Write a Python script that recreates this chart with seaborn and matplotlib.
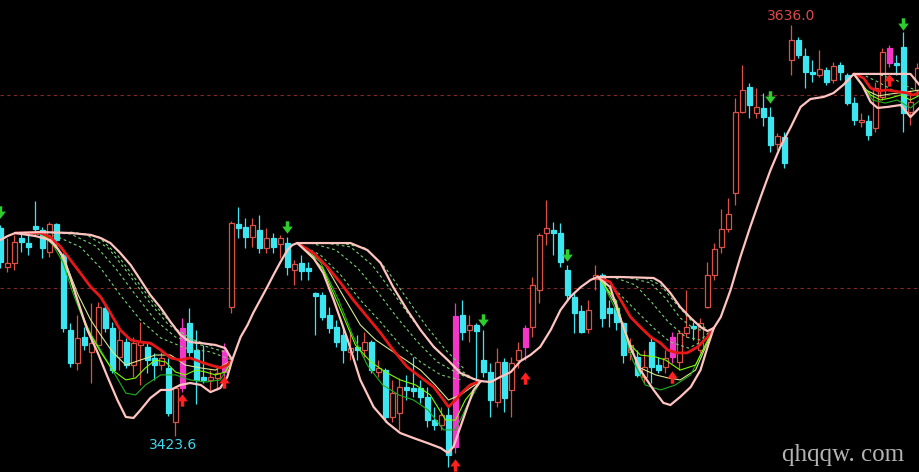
import matplotlib
matplotlib.use("Agg")
import matplotlib.pyplot as plt
from matplotlib.path import Path
import pandas as pd
import seaborn as sns

# daily candles (index 0 = leftmost candle)
opens = [3531.1, 3510.9, 3513.0, 3525.9, 3523.3, 3532.1, 3530.1, 3518.7, 3533.2, 3517.1,
         3478.3, 3461.2, 3474.6, 3466.9, 3470.5, 3489.7, 3479.3, 3464.3, 3472.0, 3460.1,
         3470.5, 3469.5, 3463.8, 3460.1, 3458.6, 3430.6, 3448.2, 3481.9, 3467.9, 3453.9,
         3452.4, 3453.4, 3456.5, 3490.2, 3533.2, 3531.6, 3526.4, 3530.1, 3520.7, 3525.9,
         3522.8, 3523.3, 3509.3, 3513.0, 3510.4, 3497.4, 3496.4, 3486.0, 3479.8, 3475.7,
         3466.9, 3469.5, 3467.9, 3472.0, 3456.5, 3457.5, 3433.2, 3435.3, 3448.7, 3448.2,
         3448.2, 3443.6, 3431.6, 3429.1, 3434.2, 3417.7, 3486.0, 3478.3, 3480.9, 3462.7,
         3456.5, 3441.0, 3461.7, 3447.2, 3462.7, 3469.5, 3479.8, 3499.0, 3528.5, 3530.1,
         3528.5, 3509.3, 3495.4, 3488.1, 3478.8, 3504.7, 3506.8, 3489.7, 3489.7, 3481.9,
         3466.9, 3464.3, 3453.9, 3472.0, 3460.1, 3459.1, 3464.3, 3461.7, 3476.7, 3480.3,
         3467.9, 3490.2, 3506.8, 3521.3, 3530.6, 3549.2, 3591.2, 3604.1, 3590.7, 3593.3,
         3588.6, 3574.6, 3578.2, 3618.1, 3628.5, 3620.2, 3611.9, 3610.4, 3612.9, 3607.8,
         3615.5, 3610.4, 3595.9, 3586.0, 3586.5, 3582.9, 3599.0, 3616.6, 3616.6, 3624.9,
         3591.2, 3602.6]
highs = [3532.7, 3525.9, 3527.5, 3529.0, 3528.5, 3545.1, 3531.6, 3534.2, 3533.7, 3518.2,
         3481.9, 3486.0, 3479.8, 3492.3, 3492.8, 3492.3, 3482.4, 3478.3, 3474.1, 3474.6,
         3482.4, 3472.0, 3466.4, 3466.9, 3463.8, 3449.3, 3484.5, 3489.7, 3478.3, 3470.5,
         3457.5, 3460.1, 3471.5, 3534.7, 3542.0, 3536.3, 3536.3, 3537.8, 3531.1, 3528.5,
         3527.5, 3526.4, 3514.5, 3517.1, 3513.5, 3497.9, 3497.9, 3490.2, 3483.4, 3479.8,
         3477.2, 3475.7, 3477.2, 3473.1, 3462.7, 3458.6, 3452.4, 3453.4, 3455.0, 3464.3,
         3452.4, 3448.7, 3438.4, 3438.4, 3438.4, 3492.3, 3493.8, 3486.0, 3481.9, 3478.3,
         3461.2, 3468.9, 3463.8, 3464.3, 3472.0, 3480.9, 3505.7, 3528.5, 3545.6, 3534.2,
         3533.7, 3511.9, 3497.9, 3491.2, 3493.8, 3511.9, 3507.8, 3493.8, 3493.8, 3482.4,
         3474.1, 3467.9, 3467.9, 3474.6, 3464.3, 3467.9, 3477.2, 3478.3, 3499.0, 3482.4,
         3484.5, 3513.5, 3523.3, 3540.9, 3546.6, 3598.4, 3615.5, 3606.2, 3603.6, 3601.0,
         3593.8, 3580.3, 3580.8, 3636.0, 3630.0, 3624.3, 3618.1, 3623.3, 3614.5, 3617.1,
         3617.1, 3611.4, 3599.0, 3590.7, 3589.6, 3606.7, 3624.3, 3625.9, 3620.7, 3632.6,
         3602.6, 3616.6]
lows = [3510.4, 3508.3, 3509.3, 3518.7, 3517.1, 3527.5, 3515.6, 3516.1, 3522.3, 3477.2,
        3459.1, 3457.5, 3467.9, 3450.8, 3469.5, 3477.2, 3456.0, 3457.5, 3458.6, 3453.9,
        3449.8, 3456.0, 3452.4, 3457.5, 3433.7, 3423.6, 3446.1, 3464.8, 3439.9, 3450.8,
        3447.2, 3447.2, 3453.9, 3487.1, 3525.9, 3520.7, 3521.3, 3518.2, 3518.2, 3518.2,
        3515.6, 3506.8, 3501.6, 3504.2, 3504.2, 3475.7, 3483.4, 3476.7, 3469.5, 3461.2,
        3462.7, 3462.7, 3464.3, 3456.0, 3453.9, 3430.6, 3430.6, 3426.5, 3442.0, 3443.6,
        3440.5, 3428.0, 3426.5, 3426.5, 3407.3, 3414.6, 3473.1, 3472.0, 3450.8, 3453.9,
        3433.2, 3438.4, 3435.8, 3433.2, 3458.6, 3462.7, 3474.6, 3492.3, 3522.3, 3517.1,
        3510.9, 3493.8, 3476.7, 3476.7, 3476.7, 3499.0, 3479.8, 3479.8, 3478.3, 3461.2,
        3462.7, 3453.9, 3450.8, 3450.8, 3456.0, 3456.0, 3461.2, 3457.5, 3474.6, 3473.1,
        3466.4, 3489.7, 3504.2, 3518.2, 3529.0, 3543.0, 3590.7, 3588.1, 3588.1, 3583.9,
        3570.5, 3571.5, 3562.2, 3610.4, 3619.2, 3603.6, 3606.7, 3609.3, 3605.2, 3606.2,
        3607.8, 3594.8, 3584.5, 3583.4, 3576.7, 3580.8, 3597.4, 3614.5, 3610.4, 3580.8,
        3584.5, 3600.0]
closes = [3513.5, 3513.0, 3523.8, 3523.8, 3521.3, 3530.6, 3520.7, 3533.2, 3524.9, 3479.3,
          3461.2, 3474.1, 3470.5, 3471.5, 3490.2, 3479.3, 3457.5, 3473.1, 3460.1, 3471.5,
          3472.6, 3462.7, 3460.1, 3463.8, 3435.3, 3448.2, 3479.3, 3466.9, 3452.4, 3452.4,
          3453.9, 3456.0, 3467.9, 3533.7, 3531.1, 3526.4, 3532.7, 3520.7, 3525.9, 3521.3,
          3525.9, 3510.9, 3512.5, 3508.8, 3508.8, 3495.9, 3485.0, 3479.3, 3472.0, 3467.9,
          3468.9, 3467.9, 3472.0, 3457.5, 3458.6, 3433.2, 3445.6, 3448.7, 3447.2, 3446.7,
          3443.6, 3431.6, 3429.1, 3434.2, 3413.5, 3485.5, 3477.2, 3480.9, 3477.7, 3456.5,
          3442.0, 3461.7, 3443.0, 3461.2, 3467.9, 3479.3, 3501.6, 3527.5, 3531.1, 3528.5,
          3513.5, 3496.4, 3487.1, 3477.2, 3488.6, 3506.8, 3484.5, 3487.1, 3482.4, 3465.3,
          3470.5, 3455.0, 3459.1, 3459.1, 3457.5, 3463.8, 3474.6, 3476.7, 3479.8, 3479.3,
          3481.9, 3506.8, 3520.2, 3530.6, 3538.4, 3591.2, 3602.6, 3594.8, 3593.8, 3588.6,
          3574.1, 3578.8, 3564.8, 3628.5, 3620.7, 3611.9, 3610.9, 3613.5, 3606.7, 3615.0,
          3611.9, 3595.9, 3587.0, 3587.0, 3579.3, 3603.6, 3622.3, 3624.3, 3615.5, 3590.7,
          3596.4, 3614.0]

# signals
buy_idx = [26, 32, 65, 75, 96, 127]
buy_y = [3442.0, 3451.3, 3408.3, 3453.4, 3453.9, 3607.8]
sell_idx = [0, 41, 69, 81, 110, 129]
sell_y = [3539.4, 3531.6, 3483.4, 3517.1, 3599.0, 3636.8]

# indicator lines as (candle index, price)
pink_upper = [(0.0, 3524.9), (1.0, 3526.9), (2.1, 3528.5), (5.7, 3529.0), (10.0, 3528.5),
              (12.9, 3527.5), (14.3, 3525.9), (15.7, 3523.3), (17.1, 3518.2), (18.6, 3511.9),
              (20.0, 3504.2), (21.4, 3496.4), (22.9, 3489.7), (24.3, 3482.4), (25.7, 3475.7),
              (27.1, 3472.0), (28.6, 3471.5), (30.7, 3470.5), (32.1, 3468.9), (33.1, 3462.7),
              (34.3, 3474.6), (35.3, 3480.9), (36.1, 3487.1), (37.1, 3493.8), (38.1, 3500.5),
              (39.0, 3506.8), (40.0, 3513.5), (41.0, 3519.7), (41.7, 3522.3), (42.4, 3523.3),
              (45.7, 3523.3), (50.0, 3523.3), (52.4, 3519.7), (54.3, 3513.0), (56.1, 3500.5),
              (58.1, 3488.6), (60.0, 3478.3), (61.9, 3469.5), (63.9, 3462.7), (65.7, 3456.0),
              (67.6, 3452.9), (68.6, 3451.8), (70.0, 3451.3), (71.4, 3453.9), (72.9, 3456.5),
              (74.3, 3462.2), (75.7, 3465.3), (77.1, 3469.5), (78.6, 3478.3), (80.0, 3488.6),
              (81.4, 3495.4), (82.9, 3500.5), (84.3, 3504.2), (85.3, 3505.7), (88.6, 3505.7),
              (93.3, 3505.2), (94.3, 3503.1), (95.7, 3497.4), (97.1, 3490.2), (98.6, 3484.5),
              (100.0, 3479.8), (101.0, 3477.7), (101.9, 3479.3), (102.9, 3485.0), (104.3, 3499.0),
              (105.7, 3516.1), (107.1, 3531.6), (108.6, 3547.2), (110.0, 3561.1), (111.4, 3573.1),
              (112.9, 3583.4), (114.3, 3593.8), (115.7, 3597.9), (117.6, 3599.0), (119.0, 3601.0),
              (120.4, 3605.2), (121.9, 3610.9), (125.7, 3610.9), (130.0, 3610.9), (131.4, 3604.7)]

pink_lower_a = [(2.1, 3528.5), (5.0, 3526.9), (7.1, 3524.9), (8.1, 3520.7), (9.0, 3516.1),
                (10.0, 3505.2), (11.0, 3493.8), (12.4, 3478.3), (13.9, 3466.4), (15.3, 3453.9),
                (16.7, 3442.0), (17.9, 3433.2), (19.0, 3432.7), (20.0, 3436.8), (21.4, 3443.0),
                (22.9, 3447.2), (24.3, 3447.2), (25.7, 3449.8), (27.1, 3450.8), (28.6, 3449.8),
                (30.0, 3446.1), (31.4, 3448.2), (32.4, 3453.9), (33.1, 3462.7)]
pink_lower_b = [(42.4, 3523.3), (44.7, 3515.6), (46.1, 3507.8), (47.6, 3493.8), (49.6, 3473.1),
                (51.4, 3452.4), (53.3, 3438.4), (55.3, 3430.1), (57.1, 3424.9), (59.0, 3422.3),
                (61.0, 3419.7), (62.9, 3417.1), (63.9, 3414.6), (64.7, 3417.7), (65.7, 3428.0),
                (66.7, 3438.4), (67.6, 3447.2), (68.6, 3451.8)]
pink_lower_c = [(85.3, 3505.7), (87.1, 3500.5), (88.6, 3483.4), (90.0, 3469.5), (91.4, 3457.5),
                (93.3, 3447.2), (94.7, 3440.5), (95.7, 3439.4), (97.1, 3443.6), (98.6, 3448.7),
                (100.0, 3457.5), (101.1, 3470.5), (101.9, 3479.3)]
pink_lower_d = [(121.9, 3610.9), (123.1, 3605.2), (124.3, 3596.4), (125.3, 3593.3),
                (126.7, 3593.8), (128.6, 3594.8), (130.0, 3588.6), (131.4, 3593.8)]

red_a = [(2.1, 3528.5), (5.7, 3528.5), (7.1, 3526.4), (8.6, 3521.3), (10.0, 3514.5),
         (11.4, 3507.8), (12.9, 3500.5), (14.3, 3495.4), (15.7, 3487.1), (17.1, 3478.3),
         (18.6, 3473.1), (20.0, 3472.0), (21.4, 3471.5), (22.9, 3467.9), (24.3, 3463.8),
         (25.7, 3462.7), (27.1, 3463.8), (28.6, 3461.7), (30.0, 3460.1), (31.4, 3458.6),
         (32.4, 3460.1), (33.1, 3462.7)]
red_b = [(42.4, 3523.3), (44.7, 3518.2), (46.7, 3510.9), (48.6, 3502.6), (50.4, 3493.8),
         (52.4, 3485.0), (54.3, 3476.7), (56.1, 3467.9), (58.1, 3459.1), (60.0, 3453.9),
         (61.9, 3448.7), (63.3, 3442.0), (64.0, 3438.4), (65.0, 3442.0), (66.0, 3446.1),
         (67.1, 3449.8), (68.6, 3451.8)]
red_c = [(85.3, 3505.7), (87.1, 3503.1), (88.6, 3493.8), (90.0, 3485.0), (91.4, 3479.8),
         (92.9, 3474.6), (94.3, 3471.5), (95.3, 3467.9), (96.7, 3466.4), (98.1, 3466.4),
         (99.6, 3469.5), (101.0, 3474.6), (101.9, 3479.3)]
red_d = [(121.9, 3610.9), (123.3, 3608.8), (124.3, 3603.6), (125.4, 3602.1), (126.7, 3602.6),
         (128.6, 3601.5), (129.6, 3601.0), (130.4, 3600.0), (131.4, 3601.5)]

lime_a = [(5.7, 3528.5), (7.9, 3522.3), (8.9, 3515.6), (10.0, 3504.2), (11.4, 3488.6),
          (12.9, 3475.7), (14.3, 3466.9), (16.0, 3457.5), (17.9, 3452.4), (19.3, 3453.4),
          (20.7, 3458.6), (22.1, 3462.7), (23.6, 3461.7), (25.0, 3456.5), (26.4, 3455.0),
          (27.9, 3457.5), (29.3, 3456.5), (30.7, 3455.0), (32.1, 3456.5), (33.1, 3462.7)]
green_a = [(7.1, 3524.9), (8.9, 3513.5), (10.3, 3497.9), (12.1, 3480.9), (14.3, 3467.9),
           (16.4, 3455.0), (17.9, 3445.6), (19.3, 3444.6), (20.7, 3449.8), (22.9, 3455.0),
           (25.0, 3455.0), (27.1, 3452.4), (29.3, 3451.3), (31.4, 3452.4), (33.1, 3462.7)]
pale_a = [(5.7, 3528.5), (8.3, 3519.7), (9.7, 3509.3), (11.1, 3496.4), (12.9, 3483.4),
          (14.3, 3475.7), (16.0, 3466.9), (17.9, 3460.1), (20.0, 3462.7), (22.1, 3465.3),
          (24.3, 3465.3), (26.4, 3460.1), (28.6, 3458.6), (30.7, 3457.5), (33.1, 3462.7)]
lime_b = [(42.4, 3523.3), (46.0, 3510.4), (48.6, 3488.6), (50.7, 3470.5), (52.9, 3461.7),
          (55.0, 3456.5), (57.1, 3452.4), (59.3, 3449.8), (61.4, 3444.6), (63.6, 3431.6),
          (65.0, 3431.6), (66.4, 3442.0), (68.6, 3451.8)]
green_b = [(42.4, 3523.3), (45.7, 3513.5), (48.3, 3493.8), (50.3, 3475.7), (52.4, 3460.1),
           (54.6, 3449.8), (56.9, 3444.6), (59.0, 3442.0), (61.1, 3436.8), (63.3, 3426.5),
           (65.0, 3426.5), (66.7, 3439.4), (68.6, 3451.8)]
pale_b = [(42.4, 3523.3), (46.4, 3511.9), (49.3, 3493.8), (51.4, 3480.9), (53.6, 3473.1),
          (55.7, 3467.9), (57.9, 3462.7), (60.0, 3457.5), (62.1, 3449.8), (64.0, 3442.0),
          (65.7, 3444.6), (67.1, 3448.2), (68.6, 3451.8)]
lime_c = [(85.3, 3505.7), (87.9, 3493.8), (88.9, 3480.9), (90.0, 3470.5), (91.4, 3465.3),
          (93.6, 3464.3), (95.0, 3462.7), (97.1, 3457.5), (99.3, 3460.1), (101.9, 3479.3)]
green_c = [(85.7, 3505.2), (88.6, 3483.4), (90.3, 3462.7), (92.1, 3449.8), (94.3, 3447.2),
           (96.4, 3449.8), (98.6, 3455.0), (101.9, 3479.3)]
pale_c = [(85.7, 3505.2), (88.3, 3488.6), (89.7, 3470.5), (91.4, 3458.6), (93.6, 3455.0),
          (95.4, 3453.4), (97.1, 3452.4), (99.3, 3457.5), (101.9, 3479.3)]
lime_d = [(121.9, 3610.9), (124.3, 3600.0), (125.7, 3597.4), (127.1, 3598.4), (128.6, 3600.0),
          (130.0, 3597.4), (131.4, 3600.0)]
green_d = [(122.1, 3609.8), (124.6, 3597.4), (126.4, 3595.8), (128.1, 3597.4), (130.0, 3593.3),
           (131.4, 3597.4)]
pale_d = [(121.9, 3610.9), (123.6, 3602.6), (125.4, 3599.5), (127.1, 3600.5), (129.3, 3601.5),
          (131.4, 3602.6)]

dashed_lines = [
    [(3.6, 3528.5), (7.9, 3526.9), (11.4, 3521.3), (14.3, 3510.4), (17.1, 3496.4), (20.0, 3483.4),
     (22.9, 3474.1), (26.4, 3468.9), (30.0, 3466.9), (33.1, 3462.7)],
    [(5.7, 3529.0), (10.0, 3528.0), (13.6, 3521.8), (16.4, 3510.4), (19.3, 3496.4), (22.1, 3483.4),
     (25.0, 3474.6), (28.6, 3470.5), (32.1, 3466.9)],
    [(7.9, 3529.0), (12.1, 3528.0), (15.4, 3520.7), (18.1, 3508.3), (21.0, 3493.8), (23.9, 3481.4),
     (26.7, 3474.1), (30.3, 3470.0)],
    [(10.0, 3529.0), (13.9, 3526.9), (16.7, 3517.1), (19.6, 3503.1), (22.4, 3489.7), (25.3, 3478.3),
     (28.1, 3472.0)],
    [(44.3, 3523.3), (47.9, 3519.7), (51.0, 3510.4), (53.9, 3497.9), (56.7, 3484.5), (59.6, 3472.0),
     (62.4, 3461.7), (65.7, 3455.0), (68.6, 3451.8)],
    [(46.4, 3523.3), (50.0, 3521.3), (53.1, 3511.9), (56.0, 3497.9), (58.9, 3483.4), (61.7, 3470.5),
     (64.6, 3460.1), (67.4, 3453.4)],
    [(48.6, 3523.3), (52.1, 3520.7), (55.0, 3510.4), (57.9, 3495.4), (60.7, 3480.9), (63.6, 3467.9),
     (66.4, 3457.5)],
    [(42.9, 3522.3), (45.7, 3517.1), (48.6, 3506.8), (51.4, 3493.8), (54.3, 3482.4), (57.1, 3470.5),
     (60.0, 3461.7), (62.9, 3455.0), (65.7, 3452.4)],
    [(87.9, 3505.2), (90.7, 3501.6), (93.1, 3492.3), (95.4, 3482.4), (97.9, 3474.6), (100.0, 3473.1),
     (101.9, 3479.3)],
    [(90.0, 3505.2), (92.9, 3502.6), (95.0, 3494.8), (97.1, 3484.5), (99.3, 3478.3), (101.4, 3478.3)],
    [(92.1, 3505.2), (94.3, 3501.6), (96.4, 3492.3), (98.6, 3483.4), (100.7, 3479.3)],
    [(87.1, 3501.6), (89.3, 3493.8), (91.4, 3486.0), (93.6, 3478.3), (95.7, 3472.0), (98.3, 3468.9),
     (100.7, 3473.1)],
    [(123.6, 3609.8), (125.4, 3606.7), (127.4, 3602.6), (129.3, 3600.0), (131.1, 3600.0)],
    [(125.7, 3610.4), (127.9, 3607.8), (130.0, 3603.6), (131.4, 3601.5)],
]

grid_levels = [3600, 3500]

UP = "#DC5046"
DOWN = "#3CE6F0"
SIGNAL = "#F535C8"

sns.set_theme(style="dark", rc={"axes.facecolor": "black", "figure.facecolor": "black"})

fig = plt.figure(figsize=(9.2, 4.72), dpi=100)
ax = fig.add_axes([0, 0, 1, 1])
ax.set_facecolor("black")

for g in grid_levels:
    ax.axhline(g, color="#862828", lw=0.8, ls=(0, (3, 3)), zorder=1)

df = pd.DataFrame({"open": opens, "high": highs, "low": lows, "close": closes})
df["idx"] = range(len(df))

w = 0.66
for i, r in df.iterrows():
    up = r["close"] >= r["open"]
    if i in buy_idx:
        col, face = SIGNAL, SIGNAL
    elif up:
        col, face = UP, "black"
    else:
        col, face = DOWN, DOWN
    ax.vlines(i, r["low"], r["high"], color=col, lw=0.9, zorder=2)
    bot = min(r["open"], r["close"])
    h = max(abs(r["close"] - r["open"]), 0.8)
    ax.bar(i, h, bottom=bot, width=w, facecolor=face, edgecolor=col, linewidth=0.9, zorder=3)


def draw(pts, color, lw, ls="-", z=5):
    xs = [p[0] for p in pts]
    ys = [p[1] for p in pts]
    sns.lineplot(x=xs, y=ys, ax=ax, color=color, lw=lw, linestyle=ls,
                 sort=False, estimator=None, legend=False, zorder=z)


for d in dashed_lines:
    draw(d, "#78d078", 0.8, ls=(0, (2.5, 2.5)), z=4)
for pts in [pale_a, pale_b, pale_c, pale_d]:
    draw(pts, "#d8e890", 0.8)
for pts in [green_a, green_b, green_c, green_d]:
    draw(pts, "#1fb01f", 0.8)
for pts in [lime_a, lime_b, lime_c, lime_d]:
    draw(pts, "#7cfc00", 0.8)
for pts in [red_a, red_b, red_c, red_d]:
    draw(pts, "#e81818", 2.0, z=6)
for pts in [pink_lower_a, pink_lower_b, pink_lower_c, pink_lower_d]:
    draw(pts, "#ffc4c0", 1.6, z=7)
draw(pink_upper, "#ffc4c0", 1.6, z=7)

# signal arrows
arrow_down = Path([(-0.28, 1.0), (0.28, 1.0), (0.28, 0.15), (0.85, 0.15), (0.0, -1.0),
                   (-0.85, 0.15), (-0.28, 0.15), (-0.28, 1.0)],
                  [Path.MOVETO] + [Path.LINETO] * 6 + [Path.CLOSEPOLY])
arrow_up = Path([(x, -y) for x, y in arrow_down.vertices], arrow_down.codes)
ax.scatter(sell_idx, sell_y, marker=arrow_down, s=80, color="#2ecc2e", lw=0, zorder=8)
ax.scatter(buy_idx, buy_y, marker=arrow_up, s=80, color="#ff2020", lw=0, zorder=8)

ax.text(112.9, 3640.9, "3636.0", color="#e04848", fontsize=10, ha="center", va="center")
ax.text(24.7, 3418.7, "3423.6", color="#40d8f0", fontsize=10, ha="center", va="center")
ax.text(120.4, 3413.5, "qhqqw. com", color="#b4b4b4", fontsize=18,
        family="Liberation Serif", ha="center", va="center")

ax.set_xlim(-0.07, 131.36)
ax.set_ylim(3404.7, 3649.2)
ax.axis("off")

fig.savefig("out.png", dpi=100, facecolor="black")
